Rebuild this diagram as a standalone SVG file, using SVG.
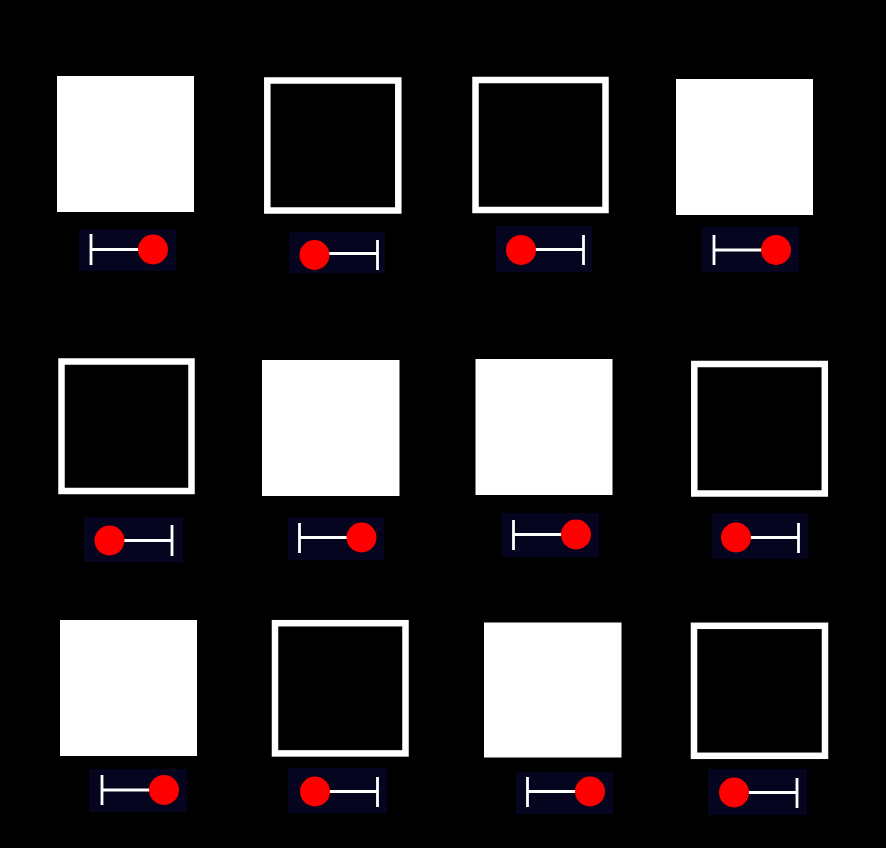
<svg xmlns="http://www.w3.org/2000/svg" width="886" height="848" viewBox="0 0 886 848">
<style>
.bg{fill:#000}
.on{fill:#fff}
.off{fill:#000;stroke:#fff;stroke-width:6.5}
.tbox{fill:#05051f}
.tl{stroke:#fff;stroke-width:2.8;fill:none}
.knob{fill:#f00}
</style>
<rect class="bg" x="0" y="0" width="886" height="848"/>
<g id="connectors"></g>
<g id="cell1">
<rect class="on" x="57" y="76" width="137" height="136"/>
<rect class="tbox" x="79" y="229" width="97" height="42"/>
<path class="tl" d="M91 234V265M91 249.5H145"/>
<circle class="knob" cx="153" cy="249.5" r="15"/>
</g>
<g id="cell2">
<rect class="off" x="267.3" y="80.5" width="131" height="130"/>
<rect class="tbox" x="289" y="232" width="96" height="41"/>
<path class="tl" d="M377.5 240V270M377.5 253.5H322"/>
<circle class="knob" cx="314.5" cy="255" r="15"/>
</g>
<g id="cell3">
<rect class="off" x="475.5" y="80" width="130" height="130"/>
<rect class="tbox" x="496" y="226" width="96" height="46"/>
<path class="tl" d="M583.5 235V265M583.5 249.5H528"/>
<circle class="knob" cx="521" cy="250" r="15"/>
</g>
<g id="cell4">
<rect class="on" x="676" y="79" width="137" height="136"/>
<rect class="tbox" x="702" y="227" width="97" height="45"/>
<path class="tl" d="M714 235V265M714 250H768"/>
<circle class="knob" cx="776" cy="250" r="15"/>
</g>
<g id="cell5">
<rect class="off" x="61.5" y="361.5" width="130" height="129.5"/>
<rect class="tbox" x="84" y="517" width="99" height="45"/>
<path class="tl" d="M172 525V556M172 540.5H117"/>
<circle class="knob" cx="109.5" cy="540.5" r="15"/>
</g>
<g id="cell6">
<rect class="on" x="262" y="360" width="137.5" height="136"/>
<rect class="tbox" x="288" y="517" width="96" height="43"/>
<path class="tl" d="M299.5 523V553M299.5 537.5H354"/>
<circle class="knob" cx="361.5" cy="537.5" r="15"/>
</g>
<g id="cell7">
<rect class="on" x="475.5" y="359" width="137" height="136"/>
<rect class="tbox" x="502" y="513" width="97" height="44"/>
<path class="tl" d="M513.5 520V550M513.5 534.5H568"/>
<circle class="knob" cx="576" cy="534.5" r="15"/>
</g>
<g id="cell8">
<rect class="off" x="694.3" y="364" width="130.5" height="129.5"/>
<rect class="tbox" x="712" y="513" width="96" height="46"/>
<path class="tl" d="M798.5 523V553M798.5 537.5H743"/>
<circle class="knob" cx="736" cy="537.5" r="15"/>
</g>
<g id="cell9">
<rect class="on" x="60" y="620" width="137" height="136"/>
<rect class="tbox" x="89" y="769" width="98" height="43"/>
<path class="tl" d="M102 775V805M102 790H156"/>
<circle class="knob" cx="164" cy="790" r="15"/>
</g>
<g id="cell10">
<rect class="off" x="275" y="623.2" width="130.5" height="130.2"/>
<rect class="tbox" x="288" y="768" width="99" height="45"/>
<path class="tl" d="M377.5 777V807M377.5 791.5H322"/>
<circle class="knob" cx="315" cy="791.5" r="15"/>
</g>
<g id="cell11">
<rect class="on" x="484" y="622.5" width="137.5" height="135"/>
<rect class="tbox" x="516" y="772" width="97" height="42"/>
<path class="tl" d="M527.5 777V807M527.5 791.5H582"/>
<circle class="knob" cx="590" cy="791.5" r="15"/>
</g>
<g id="cell12">
<rect class="off" x="694" y="625.8" width="131" height="130"/>
<rect class="tbox" x="708" y="769" width="99" height="46"/>
<path class="tl" d="M797 778V808M797 792.5H741"/>
<circle class="knob" cx="734" cy="792.5" r="15"/>
</g>
</svg>
